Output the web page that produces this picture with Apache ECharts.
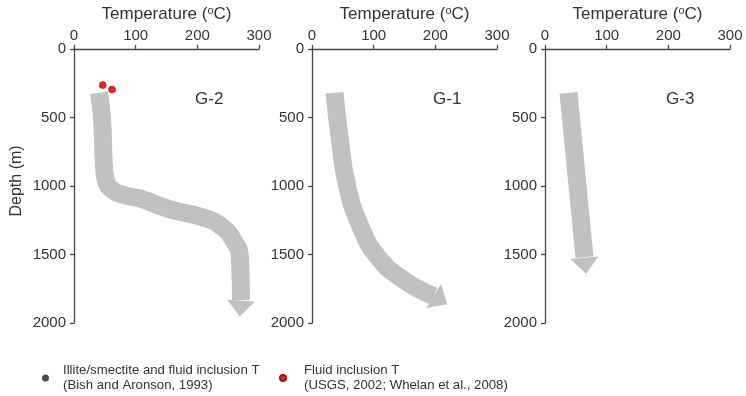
<!DOCTYPE html>
<html>
<head>
<meta charset="utf-8">
<script src="https://cdn.jsdelivr.net/npm/echarts@6/dist/echarts.min.js"></script>
<style>
  html, body { margin: 0; padding: 0; background: #fff; }
  #main { width: 746px; height: 396px; }
</style>
</head>
<body>
<div id="main"></div>
<script>
// one panel per well
var wellNames = ['G-2', 'G-1', 'G-3'];
var tempRange = [0, 300];
var depthRange = [0, 2000];

// centre lines of the gradient arrows, [temperature, depth]
var g2Trend = [[40.5, 320], [45.4, 509], [48.6, 851], [51.9, 960], [63.2, 1033], [82.7, 1069], [107, 1091], [155.7, 1171], [209, 1229], [239, 1295], [259.5, 1404], [269, 1520], [270.8, 1833]];
var g1Trend = [[36.5, 320], [45.4, 669], [56.8, 996], [77.8, 1287], [107, 1520], [149.2, 1687], [197.8, 1804]];
var g3Trend = [[38.1, 320], [64, 1520]];
var trends = [g2Trend, g1Trend, g3Trend];
// arrow tips
var headTips = [[269, 1956], [218.9, 1862], [66.5, 1644]];

// measured temperatures (G-2 only)
var illiteSmectite = [];
var fluidInclusion = [[46.5, 264], [61.6, 296]];

var legendNames = ['Illite/smectite and fluid inclusion T', 'Fluid inclusion T'];
var legendRefs = ['(Bish and Aronson, 1993)', '(USGS, 2002; Whelan et al., 2008)'];

var gridLefts = [74, 312, 545];
var arrowGray = '#c0c1c3';
var axisColor = '#444';
var textColor = '#333';
var fontMain = 'Liberation Sans, Arial, sans-serif';

var chart = echarts.init(document.getElementById('main'));

var grids = [], xAxes = [], yAxes = [], titles = [], series = [];

function plainNumber(v) { return String(v); }

gridLefts.forEach(function (left, i) {
    grids.push({ left: left, top: 48, width: 185, height: 275 });

    xAxes.push({
        gridIndex: i,
        type: 'value',
        position: 'top',
        min: tempRange[0],
        max: tempRange[1],
        interval: 100,
        name: 'Temperature ({sup|o}C)',
        nameLocation: 'middle',
        nameGap: 24,
        nameTextStyle: {
            fontFamily: fontMain, fontSize: 17, color: textColor,
            rich: { sup: { fontFamily: fontMain, fontSize: 11, color: textColor, padding: [0, 0, 8, 0] } }
        },
        axisLine: { show: true, onZero: false, lineStyle: { color: axisColor, width: 1.3 } },
        axisTick: { show: true, length: 4, lineStyle: { color: axisColor, width: 1.3 } },
        axisLabel: { fontFamily: fontMain, fontSize: 15, color: textColor, margin: 6, formatter: plainNumber },
        splitLine: { show: false }
    });

    yAxes.push({
        gridIndex: i,
        type: 'value',
        inverse: true,
        min: depthRange[0],
        max: depthRange[1],
        interval: 500,
        name: i === 0 ? 'Depth (m)' : '',
        nameLocation: 'middle',
        nameGap: 49,
        nameTextStyle: { fontFamily: fontMain, fontSize: 16, color: textColor, padding: [0, 0, 0, 10] },
        axisLine: { show: true, onZero: false, lineStyle: { color: axisColor, width: 1.3 } },
        axisTick: { show: true, length: 4, lineStyle: { color: axisColor, width: 1.3 } },
        axisLabel: { fontFamily: fontMain, fontSize: 15, color: textColor, margin: 8, formatter: plainNumber },
        splitLine: { show: false }
    });

    // well label
    titles.push({
        text: wellNames[i],
        left: left + 121,
        top: 91,
        padding: 0,
        textStyle: { fontFamily: fontMain, fontSize: 17, fontWeight: 'normal', color: textColor }
    });

    // arrow body
    series.push({
        name: wellNames[i] + ' trend',
        type: 'line',
        xAxisIndex: i,
        yAxisIndex: i,
        data: trends[i],
        smooth: 0.5,
        symbol: 'none',
        silent: true,
        z: 2,
        lineStyle: { color: arrowGray, width: 18, cap: 'butt', join: 'round' }
    });
    // arrow head, placed after the first layout
    series.push({
        id: 'head' + i,
        name: wellNames[i] + ' head',
        type: 'scatter',
        xAxisIndex: i,
        yAxisIndex: i,
        data: [],
        symbol: 'triangle',
        symbolSize: [28, 16],
        silent: true,
        z: 3,
        itemStyle: { color: arrowGray, opacity: 1 }
    });
});

series.push({
    name: legendNames[0],
    type: 'scatter',
    xAxisIndex: 0,
    yAxisIndex: 0,
    data: illiteSmectite,
    symbolSize: 7,
    z: 5,
    itemStyle: { color: '#1f1f1f' }
});
series.push({
    name: legendNames[1],
    type: 'scatter',
    xAxisIndex: 0,
    yAxisIndex: 0,
    data: fluidInclusion,
    symbolSize: 7,
    z: 5,
    itemStyle: { color: '#e2262b', borderColor: '#a01518', borderWidth: 0.6, opacity: 1 }
});

function legendText(name) {
    return name + '\n' + legendRefs[legendNames.indexOf(name)];
}

var legendFont = { fontFamily: fontMain, fontSize: 13.2, lineHeight: 15, color: textColor };

chart.setOption({
    animation: false,
    backgroundColor: '#fff',
    title: titles,
    grid: grids,
    xAxis: xAxes,
    yAxis: yAxes,
    legend: [
        {
            data: [legendNames[0]], left: 42, top: 363, padding: 0, icon: 'circle',
            itemWidth: 7, itemHeight: 7, selectedMode: false,
            formatter: legendText,
            textStyle: Object.assign({ padding: [0, 0, 0, 9] }, legendFont)
        },
        {
            data: [legendNames[1]], left: 279, top: 363, padding: 0, icon: 'circle',
            itemWidth: 6, itemHeight: 6, selectedMode: false,
            formatter: legendText,
            textStyle: Object.assign({ padding: [0, 0, 0, 13] }, legendFont)
        }
    ],
    series: series
});

// arrow heads: centre between body end and tip, rotated along that direction
var headSeries = trends.map(function (body, i) {
    var base = chart.convertToPixel({ gridIndex: i }, body[body.length - 1]);
    var tip = chart.convertToPixel({ gridIndex: i }, headTips[i]);
    var mid = chart.convertFromPixel({ gridIndex: i }, [(base[0] + tip[0]) / 2, (base[1] + tip[1]) / 2]);
    var angle = Math.atan2(base[1] - tip[1], tip[0] - base[0]) * 180 / Math.PI - 90;
    return { id: 'head' + i, data: [{ value: mid, symbolRotate: angle }] };
});
chart.setOption({ series: headSeries });
</script>
</body>
</html>
